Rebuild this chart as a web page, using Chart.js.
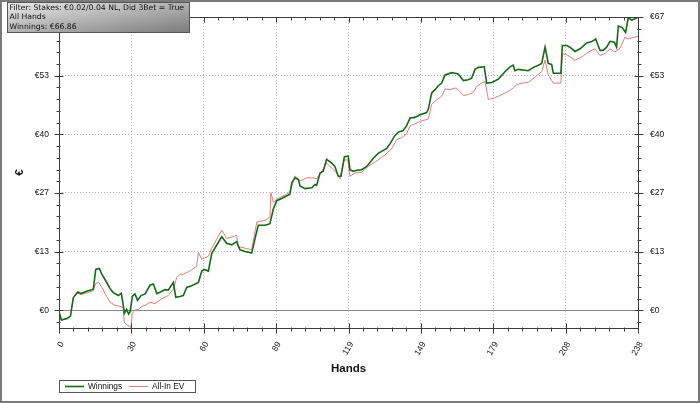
<!DOCTYPE html>
<html>
<head>
<meta charset="utf-8">
<script src="https://cdn.jsdelivr.net/npm/chart.js@4/dist/chart.umd.min.js"></script>
<style>
  html, body { margin: 0; padding: 0; background: #fff; }
  #wrap { position: relative; width: 700px; height: 403px; }
</style>
</head>
<body>
<div id="wrap"><canvas id="myChart"></canvas></div>
<script>
'use strict'

// hands played vs cumulative winnings (EUR)
var winHands = [0, 1, 3.3, 4.7, 5.9, 7.7, 9, 11.4, 14.1, 15.1,
    16.6, 17.6, 19.6, 21, 22.3, 24.4, 25.6, 26.9, 27.8, 28.6,
    29.2, 30.2, 31.2, 32.3, 33.7, 35.4, 37.4, 38.8, 40.2, 41.5,
    43.6, 44.9, 47, 48, 49.7, 51.1, 52.5, 54.5, 57.3, 58.7,
    59.6, 61.4, 62.8, 66.9, 68.9, 71, 73, 74.4, 76.5, 79.2,
    80.6, 81.9, 84.7, 86.7, 88.1, 89.5, 91.5, 94.9, 95.7, 97,
    98.4, 99.1, 101.1, 103.9, 105.2, 105.9, 107.3, 108.6, 110, 112.1,
    113.4, 114.8, 115.9, 117.3, 118.9, 119.6, 121, 122.4, 124.4, 126.5,
    129.2, 131.2, 134.7, 136.1, 138.1, 139.5, 141.5, 142.9, 144.3, 146.3,
    148.4, 151.1, 151.8, 153.2, 154.6, 155.9, 157.3, 158.7, 161.4, 162.8,
    164.1, 166.2, 168.2, 169.6, 171, 172.4, 174.8, 175.8, 177.9, 180.6,
    183.3, 185.4, 186.7, 187.4, 188.8, 192.9, 195, 197, 198.4, 199.8,
    201.1, 202.5, 203.2, 206.3, 206.9, 208.7, 210, 212.1, 214.2, 216.9,
    219, 220.6, 222.4, 223.7, 225.1, 226.5, 228.3, 229.2, 229.9, 231.5,
    232.9, 234, 235.4, 236.8, 238];
var winValues = [-0.38, -2.24, -1.86, -1.34, 2.91, 4.14, 3.8, 4.32, 4.81, 9.32,
    9.55, 8.21, 6.33, 4.92, 4.03, 3.35, 3.9, -0.67, 0.22, -0.89,
    -0.38, 3.24, 3.73, 2.24, 3.35, 3.73, 5.7, 5.97, 3.8, 4.09,
    4.7, 4.58, 6.33, 2.97, 3.13, 3.35, 5.21, 5.59, 6.33, 8.94,
    9.32, 8.94, 12.97, 16.77, 15.27, 14.92, 15.65, 13.8, 13.42, 13.04,
    16.39, 19.39, 19.39, 19.75, 23.1, 24.98, 25.49, 26.45, 29.07, 30.19,
    29.81, 28.33, 27.73, 27.95, 28.69, 28.47, 31.31, 31.69, 34.44, 33.54,
    32.8, 30.57, 30.57, 35.04, 35.17, 32.04, 31.69, 31.91, 32.04, 32.8,
    34.66, 35.78, 36.9, 38.01, 39.87, 40.63, 40.99, 42.11, 43.83, 43.98,
    44.57, 45.1, 45.84, 49.58, 50.31, 51.21, 51.81, 53.67, 54.18, 54.05,
    53.89, 52.39, 52.55, 52.93, 54.94, 55.39, 55.52, 51.81, 51.95, 52.71,
    54.41, 55.52, 55.9, 54.63, 54.94, 54.63, 55.39, 55.9, 56.28, 60,
    56.28, 56.06, 54.05, 54.05, 60.38, 60.38, 60, 59.03, 59.64, 60.98,
    61.27, 61.87, 59.26, 59.26, 60, 61.34, 61.11, 60, 64.85, 64.47,
    63.35, 66.7, 66.19, 66.48, 66.86];

// all-in expected value line
var evHands = [0, 1, 3.3, 4.7, 5.9, 7.7, 9, 11.4, 14.1, 15.1,
    16.4, 17.6, 19.6, 21, 23, 25.1, 26.4, 26.8, 27.8, 28.8,
    29.6, 30.1, 31.2, 32.6, 34, 35.4, 37.4, 39.5, 42.2, 44.9,
    47, 48.4, 49.7, 51.1, 53.8, 56.6, 57.3, 58.7, 61.4, 62.8,
    66.9, 68.9, 71.6, 73, 73.7, 76.5, 79.2, 81.3, 84.7, 86.7,
    87.1, 88.1, 89.5, 93.6, 94.9, 96.3, 97, 99.1, 101.8, 104.5,
    105.9, 108, 110, 112.1, 114.1, 115.5, 117.3, 118.7, 119.6, 121.7,
    124.4, 127.1, 131.2, 134, 136.8, 138.8, 140.9, 142.9, 144.3, 146.3,
    148.4, 151.8, 153.2, 154.6, 157.3, 158.7, 160.7, 162.8, 164.1, 166.2,
    168.2, 170.3, 171.7, 173.7, 175.1, 176.5, 177.9, 180.6, 184.7, 186.7,
    188.1, 190.2, 192.9, 194.3, 195.7, 198.4, 199.8, 201.1, 203.2, 206.3,
    206.9, 208.7, 212.1, 214.9, 217.6, 220.3, 222.4, 224.4, 226.5, 228.5,
    230.6, 232.6, 234, 236.1, 238];
var evValues = [-0.38, -2.24, -1.86, -1.34, 2.91, 3.87, 3.58, 3.96, 4.47, 6.1,
    6.33, 5.21, 3.13, 1.86, 1.12, 0.89, 0.6, -2.68, -3.35, -3.58,
    -3.95, -0.74, 0, 0.16, 0.89, 1.12, 1.86, 1.5, 2.62, 3.35,
    4.85, 7.45, 8.21, 8.21, 8.94, 10.06, 13.19, 11.63, 12.3, 14.15,
    18.27, 16.39, 16.77, 17.15, 14.53, 14.15, 13.8, 20.13, 20.51, 21.24,
    26.83, 24.6, 25.34, 26.45, 26.99, 29.45, 30.64, 29.52, 30.19, 30.19,
    29.96, 31.69, 33.54, 32.42, 31.31, 29.96, 34.28, 34.28, 30.57, 31.31,
    31.46, 32.8, 34.28, 35.4, 36.9, 38.91, 39.36, 40.25, 42.11, 42.49,
    43.09, 43.6, 46.96, 47.7, 48.81, 50.47, 50.31, 50.69, 50.31, 48.97,
    49.19, 49.71, 51.05, 51.81, 52.17, 48.08, 48.23, 48.81, 49.93, 50.69,
    51.43, 51.81, 51.95, 52.55, 53.22, 54.41, 57.02, 53.67, 51.81, 51.81,
    58.52, 58.3, 57.02, 57.76, 58.88, 59.64, 58.14, 58.52, 59.64, 58.88,
    59.77, 62.23, 61.87, 62.23, 62.46];

var seriesNames = ['Winnings', 'All-In EV'];
var seriesColors = ['#156b15', '#e07b7b'];
var maxHand = 238;
var topValue = 66.86;
var bottomValue = -4.05;
var xTitle = 'Hands';
var yTitle = '€';
var infoLines = ['Filter: Stakes: €0.02/0.04 NL, Did 3Bet = True', 'All Hands', 'Winnings: €66.86'];

function toPoints(hands, values) {
    return hands.map(function (h, i) { return {x: h, y: values[i]}; });
}

function xMajors(scale) {
    var t = [];
    for (var k = 0; k <= 8; k++) t.push({value: k * maxHand / 8});
    scale.ticks = t;
}

function yMajors(scale) {
    var t = [];
    for (var k = 0; k <= 5; k++) t.push({value: k * topValue / 5});
    scale.ticks = t;
}

function euro(v) {
    return '€' + Math.round(v);
}

var framePlugin = {
    id: 'frame',
    beforeDatasetsDraw: function (chart) {
        var ctx = chart.ctx;
        var area = chart.chartArea;
        var zero = Math.round(chart.scales.y.getPixelForValue(0)) + 0.5;
        ctx.save();
        ctx.strokeStyle = '#8a8a8a';
        ctx.lineWidth = 1;
        ctx.beginPath();
        ctx.moveTo(area.left, zero);
        ctx.lineTo(area.right, zero);
        ctx.stroke();
        ctx.restore();
    },
    afterDraw: function (chart) {
        var ctx = chart.ctx;
        var area = chart.chartArea;
        var xs = chart.scales.x, ys = chart.scales.y;
        var l = Math.round(area.left) + 0.5, r = Math.round(area.right) + 0.5;
        var t = Math.round(area.top) + 0.5, b = Math.round(area.bottom) + 0.5;
        var i, px, major;

        ctx.save();
        ctx.strokeStyle = '#3c3c3c';
        ctx.lineWidth = 1;
        ctx.strokeRect(l, t, r - l, b - t);

        // major + minor tick marks on all four sides
        ctx.beginPath();
        for (i = 0; i <= 40; i++) {
            px = Math.round(xs.getPixelForValue(i * maxHand / 40)) + 0.5;
            major = i % 5 === 0;
            ctx.moveTo(px, b - (major ? 5 : 1));
            ctx.lineTo(px, b + (major ? 5 : 3));
            ctx.moveTo(px, t);
            ctx.lineTo(px, t + (major ? 5 : 3));
        }
        for (i = -1; i <= 25; i++) {
            if (i * topValue / 25 < ys.min) continue;
            px = Math.round(ys.getPixelForValue(i * topValue / 25)) + 0.5;
            major = i % 5 === 0;
            ctx.moveTo(l - (major ? 5 : 3), px);
            ctx.lineTo(l + (major ? 4 : 1), px);
            ctx.moveTo(r - (major ? 4 : 1), px);
            ctx.lineTo(r + (major ? 5 : 3), px);
        }
        ctx.stroke();

        // info box
        var grad = ctx.createLinearGradient(7, 2, 17, 61);
        grad.addColorStop(0, '#ececec');
        grad.addColorStop(1, '#7c7c7c');
        ctx.fillStyle = grad;
        ctx.fillRect(7, 2, 182, 30);
        ctx.strokeStyle = '#555';
        ctx.strokeRect(7.5, 2.5, 182, 30);
        ctx.fillStyle = '#111';
        ctx.font = '7.7px "DejaVu Sans"';
        ctx.textBaseline = 'middle';
        ctx.textAlign = 'left';
        infoLines.forEach(function (line, n) {
            ctx.fillText(line, 9.5, 7.8 + n * 9.4);
        });

        // legend
        ctx.strokeStyle = '#555';
        ctx.strokeRect(59.5, 380.5, 136, 12);
        ctx.font = '8.3px "Liberation Sans", Arial';
        var lx = [65, 129];
        seriesNames.forEach(function (name, n) {
            ctx.strokeStyle = seriesColors[n];
            ctx.lineWidth = n === 0 ? 1.6 : 1;
            ctx.beginPath();
            ctx.moveTo(lx[n], 386.5);
            ctx.lineTo(lx[n] + 19, 386.5);
            ctx.stroke();
            ctx.fillStyle = '#111';
            ctx.fillText(name, lx[n] + 23, 387);
        });

        // outer border
        ctx.lineWidth = 2;
        ctx.strokeStyle = '#7a7a7a';
        ctx.strokeRect(1, 1, 698, 401);
        ctx.restore();
    }
};

Chart.defaults.font.family = '"Liberation Sans", Arial, sans-serif';
Chart.defaults.color = '#111';

var ctx = document.getElementById('myChart').getContext('2d');

var myChart = new Chart(ctx, {
    type: 'line',
    data: {
        datasets: [
        {
            label: seriesNames[0],
            data: toPoints(winHands, winValues),
            borderColor: seriesColors[0],
            borderWidth: 1.6,
            pointRadius: 0,
            tension: 0,
            order: 1
        },
        {
            label: seriesNames[1],
            data: toPoints(evHands, evValues),
            borderColor: seriesColors[1],
            borderWidth: 1,
            pointRadius: 0,
            tension: 0,
            order: 2
        }]
    },
    plugins: [framePlugin],
    options: {
        responsive: true,
        maintainAspectRatio: false,
        animation: false,
        layout: { padding: { top: 11, left: 0, right: 0, bottom: 0 } },
        plugins: {
            legend: { display: false },
            tooltip: { enabled: false }
        },
        scales: {
            x: {
                type: 'linear',
                min: 0,
                max: maxHand,
                afterBuildTicks: xMajors,
                afterFit: function (scale) { scale.height = 75; },
                ticks: {
                    minRotation: 60,
                    maxRotation: 60,
                    padding: 12,
                    labelOffset: 3,
                    font: { size: 8.5 },
                    callback: function (v) { return Math.round(v); }
                },
                grid: {
                    drawTicks: false,
                    color: function (c) {
                        return c.tick && c.tick.value > 0.1 && c.tick.value < maxHand - 0.1 ? '#b4b4b4' : 'transparent';
                    }
                },
                border: { display: false, dash: [1, 2] },
                title: {
                    display: true,
                    text: xTitle,
                    font: { size: 11.5, weight: 'bold' },
                    padding: { top: 0, bottom: 27 }
                }
            },
            y: {
                position: 'left',
                min: bottomValue,
                max: topValue,
                afterBuildTicks: yMajors,
                afterFit: function (scale) { scale.width = 59; },
                ticks: {
                    padding: 10,
                    font: { size: 8.5 },
                    callback: euro
                },
                grid: {
                    drawTicks: false,
                    color: function (c) {
                        return c.tick && c.tick.value > 0.1 && c.tick.value < topValue - 0.1 ? '#b4b4b4' : 'transparent';
                    }
                },
                border: { display: false, dash: [1, 2] },
                title: {
                    display: true,
                    text: yTitle,
                    font: { size: 11.5, weight: 'bold' },
                    padding: { top: 13, bottom: 0 }
                }
            },
            y2: {
                position: 'right',
                min: bottomValue,
                max: topValue,
                afterBuildTicks: yMajors,
                afterFit: function (scale) { scale.width = 62; },
                ticks: {
                    padding: 12,
                    font: { size: 8.5 },
                    callback: euro
                },
                grid: { display: false, drawTicks: false },
                border: { display: false }
            }
        }
    }
});
</script>
</body>
</html>
